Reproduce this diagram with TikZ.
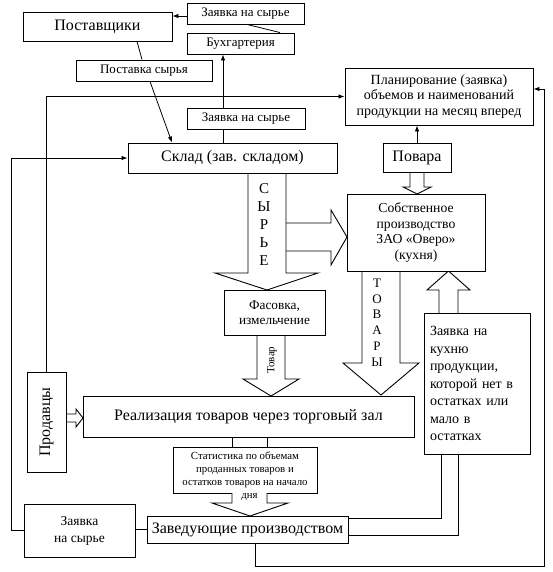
\documentclass[tikz,border=0pt]{standalone}
\usepackage{fontspec}
\setmainfont{Liberation Serif}
\usetikzlibrary{arrows.meta,calc}
\begin{document}
\begin{tikzpicture}[x=1pt,y=-1pt,
  bx/.style={draw, line width=0.9pt, fill=white, inner sep=0pt, align=center},
  ln/.style={line width=0.8pt},
  ar/.style={ln, -{Latex[length=6pt,width=4.5pt]}},
  hol/.style={draw, line width=0.9pt, fill=white, line join=miter},
  fA/.style={font=\fontsize{16}{18}\selectfont},
  fB/.style={font=\fontsize{13}{15.5}\selectfont},
]
\useasboundingbox (0,0) rectangle (553,572);

% hollow arrows (behind boxes)
\draw[hol] (286,223) -- (331,223) -- (331,210) -- (347,237) -- (331,265) -- (331,251) -- (286,251);
\draw[hol] (248,173) -- (248,273) -- (215,273) -- (267,290) -- (318,273) -- (286,273) -- (286,173);
\draw[hol] (410,172) -- (410,187) -- (403,187) -- (417,194) -- (431,187) -- (424,187) -- (424,172);
\draw[hol] (257,335) -- (257,379) -- (243,379) -- (271,396) -- (299,379) -- (285,379) -- (285,335);
\draw[hol] (362,271) -- (362,363) -- (343,363) -- (381,395) -- (419,363) -- (400,363) -- (400,271);
\draw[hol] (439,313) -- (439,290) -- (427,290) -- (448.5,271) -- (470,290) -- (458,290) -- (458,313);
\draw[hol] (67,414) -- (76,414) -- (76,409) -- (83,418) -- (76,427) -- (76,422) -- (67,422);

% boxes
\node[bx,fA,minimum width=149pt,minimum height=29pt] (post) at (97.5,26.5) {Поставщики};
\node[bx,fB,minimum width=117pt,minimum height=21pt] (zs1) at (245.5,13.5) {Заявка на сырье};
\node[bx,fB,minimum width=107pt,minimum height=21pt] (buh) at (240.5,43.5) {Бухгартерия};
\node[bx,fB,minimum width=136pt,minimum height=21pt] (pst) at (144,70.5) {Поставка сырья};
\node[bx,fB,minimum width=118pt,minimum height=21pt] (zs2) at (246,118.5) {Заявка на сырье};
\node[bx,fA,minimum width=209pt,minimum height=30pt] (sklad) at (232.5,158) {Склад (зав. складом)};
\node[bx,font=\fontsize{14}{15.8}\selectfont,minimum width=188pt,minimum height=57pt] (plan) at (439,96.5) {Планирование (заявка)\\объемов и наименований\\продукции на месяц вперед};
\node[bx,fA,minimum width=68pt,minimum height=29pt] (povara) at (417,157.5) {Повара};
\node[bx,font=\fontsize{13.7}{15.4}\selectfont,minimum width=138pt,minimum height=77pt] (sob) at (416,232.5) {Собственное\\производство\\ЗАО «Оверо»\\(кухня)};
\node[bx,font=\fontsize{13.3}{15.5}\selectfont,minimum width=101pt,minimum height=45pt] (fas) at (274.5,312.5) {Фасовка,\\измельчение};
\node[bx,fA,minimum width=331pt,minimum height=41pt] (real) at (248.5,416.5) {Реализация товаров через торговый зал};
\node[bx,minimum width=39pt,minimum height=100pt] (prod) at (46.5,422) {};
\node[fA,rotate=90] at (prod.center) {Продавцы};
\node[bx,font=\fontsize{14}{17.5}\selectfont,minimum width=106pt,minimum height=141pt,text width=94pt,align=left,inner xsep=6pt] (kuh) at (477,383.5) {Заявка на\\кухню\\продукции,\\которой нет в\\остатках или\\мало в\\остатках};
\node[bx,font=\fontsize{10.8}{13}\selectfont,minimum width=144pt,minimum height=46pt] (stat) at (245,470) {Статистика по объемам\\проданных товаров и\\остатков товаров на начало};
\node[bx,fA,minimum width=201pt,minimum height=27pt] (zav) at (247.5,529.5) {Заведующие производством};
\node[bx,font=\fontsize{13.5}{17}\selectfont,minimum width=111pt,minimum height=53pt] (zs3) at (79.5,530.5) {Заявка\\на сырье};

% letters on hollow arrows
\node[font=\fontsize{15}{18.2}\selectfont,align=center,inner sep=0pt] (syr) at (264,224.5) {С\\Ы\\Р\\Ь\\Е};
\node[font=\fontsize{13}{15.8}\selectfont,align=center,inner sep=0pt] (tov) at (377,322.5) {Т\\О\\В\\А\\Р\\Ы};
\node[font=\fontsize{11}{13}\selectfont,rotate=90,inner sep=0pt] (tovar) at (272,360) {Товар};

% statistics arrow
\draw[ln] (232,437) -- (232,447);
\draw[ln] (267,437) -- (267,447);
\fill[white] (232.6,491) rectangle (266.4,495);
\draw[hol] (232,493) -- (232,503) -- (212,503) -- (250,516) -- (288,503) -- (267,503) -- (267,493);
\node[font=\fontsize{10.8}{13}\selectfont,inner sep=0pt] (dnya) at (249.5,497.5) {дня};

% connectors
\draw[ar] ([yshift=-2.5pt]zs1.west) -- ([yshift=-2.5pt]zs1.west -| post.east);
\draw[ln] (buh.north -| 280,0) -- (zs1.south -| 247,0);
\draw[ln] (post.south -| 137,0) -- (pst.north -| 142,0);
\draw[ar] (pst.south -| 150,0) -- (sklad.north -| 172,0);
\draw[ln] (sklad.north -| 223,0) -- (zs2.south -| 223,0);
\draw[ar] (zs2.north -| 223,0) -- (buh.south -| 223,0);
\draw[ar] (prod.north) |- (plan.west);
\draw[ar] (zs3.west) -- ++(-12,0) |- (sklad.west);
\draw[ln] (zav.west) -- (zav.west -| zs3.east);
\draw[ln] (zav.east |- 0,518) -| (kuh.south -| 441,0);
\draw[ln] (zav.east |- 0,535) -| (kuh.south -| 458,0);
\draw[ar] (zav.south -| 255,0) -- (255,566) -- (544,566) -- (544,89) -- (plan.east |- 0,89);
\draw[ar] (povara.north) -- (povara.north |- plan.south);
\end{tikzpicture}
\end{document}
